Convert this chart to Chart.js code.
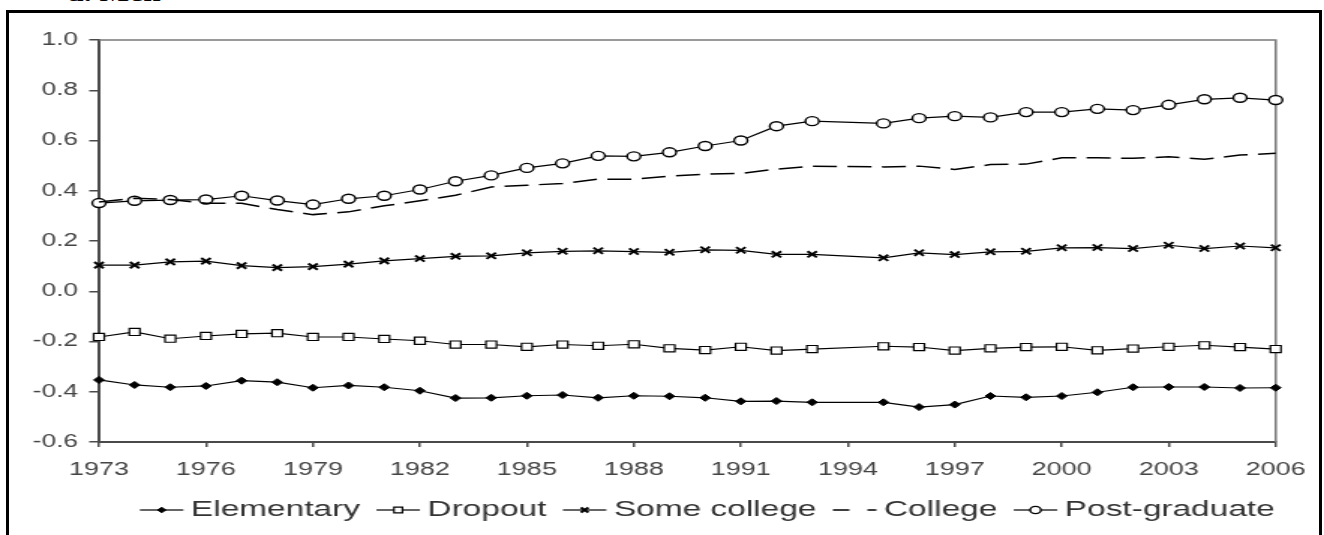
<!DOCTYPE html>
<html>
<head>
<meta charset="utf-8">
<script src="https://cdn.jsdelivr.net/npm/chart.js@4"></script>
<style>
  html, body { margin: 0; padding: 0; background: #fff; }
  #wrap { position: relative; width: 1324px; height: 535px; overflow: hidden; }
  #frame { position: absolute; left: 6px; top: 10px; width: 1316px; height: 600px;
           border: 3px solid #000; box-sizing: border-box; }
  #panel { position: absolute; left: 68px; top: -18.5px; line-height: 21px; white-space: nowrap;
           font: bold 21px "Liberation Serif", "Times New Roman", serif; color: #000;
           transform: scaleX(1.5); transform-origin: 0 0; }
  #chart { position: absolute; left: 0; top: 0; }
</style>
</head>
<body>
<div id="wrap">
  <div id="frame"></div>
  <div id="panel">a. Men</div>
  <!-- the figure is drawn on an 883px-wide canvas and displayed 1.5x wider -->
  <canvas id="chart" width="883" height="535" style="width:1324px;height:535px"></canvas>
</div>
<script>
// Survey years (no observation for 1994)
const years = [1973, 1974, 1975, 1976, 1977, 1978, 1979, 1980, 1981, 1982, 1983, 1984, 1985,
               1986, 1987, 1988, 1989, 1990, 1991, 1992, 1993, 1995, 1996, 1997, 1998, 1999,
               2000, 2001, 2002, 2003, 2004, 2005, 2006];

const elementary = [-0.353, -0.373, -0.382, -0.377, -0.356, -0.362, -0.384, -0.375, -0.382, -0.396,
                    -0.425, -0.424, -0.416, -0.413, -0.424, -0.416, -0.418, -0.424, -0.438, -0.437,
                    -0.442, -0.442, -0.461, -0.451, -0.417, -0.422, -0.417, -0.402, -0.382, -0.381,
                    -0.381, -0.385, -0.384];

const dropout = [-0.182, -0.162, -0.189, -0.178, -0.170, -0.167, -0.182, -0.182, -0.190, -0.197,
                 -0.212, -0.212, -0.221, -0.212, -0.217, -0.211, -0.227, -0.234, -0.221, -0.236,
                 -0.230, -0.219, -0.222, -0.236, -0.227, -0.222, -0.221, -0.235, -0.228, -0.221,
                 -0.215, -0.222, -0.230];

const someCollege = [0.104, 0.104, 0.117, 0.120, 0.102, 0.094, 0.098, 0.108, 0.121, 0.130,
                     0.139, 0.141, 0.153, 0.159, 0.161, 0.158, 0.155, 0.165, 0.163, 0.147,
                     0.147, 0.133, 0.153, 0.146, 0.157, 0.159, 0.173, 0.174, 0.170, 0.183,
                     0.170, 0.180, 0.173];

const college = [0.355, 0.370, 0.365, 0.350, 0.350, 0.325, 0.305, 0.316, 0.340, 0.360,
                 0.382, 0.415, 0.422, 0.429, 0.446, 0.446, 0.458, 0.466, 0.469, 0.486,
                 0.498, 0.495, 0.498, 0.485, 0.504, 0.506, 0.531, 0.531, 0.529, 0.535,
                 0.525, 0.542, 0.549];

const postGraduate = [0.351, 0.360, 0.363, 0.365, 0.380, 0.361, 0.345, 0.368, 0.380, 0.405,
                      0.438, 0.461, 0.491, 0.509, 0.539, 0.537, 0.553, 0.578, 0.600, 0.657,
                      0.677, 0.668, 0.689, 0.697, 0.692, 0.713, 0.713, 0.726, 0.721, 0.742,
                      0.764, 0.770, 0.761];

const seriesNames = ['Elementary', 'Dropout', 'Some college', 'College', 'Post-graduate'];

const xTickStart = 1973, xTickEnd = 2006, xTickStep = 3;
const yTickMin = -0.6, yTickMax = 1.0, yTickStep = 0.2;

const FONT = '"Liberation Sans", Arial, Helvetica, sans-serif';
const toPoints = vals => years.map((yr, i) => ({ x: yr, y: vals[i] }));

function series(label, vals, extra) {
  return Object.assign({
    label, data: toPoints(vals),
    borderColor: '#000', borderWidth: 1.2, tension: 0, clip: false,
    pointBorderColor: '#000', pointBorderWidth: 1.2, pointBackgroundColor: '#fff',
    pointHoverRadius: 0
  }, extra);
}

const datasets = [
  series(seriesNames[0], elementary,  { pointStyle: 'rectRot', pointRadius: 3.5, pointBackgroundColor: '#000', pointBorderWidth: 1 }),
  series(seriesNames[1], dropout,     { pointStyle: 'rect', pointRadius: 5 }),
  series(seriesNames[2], someCollege, { pointStyle: 'crossRot', pointRadius: 4.4, pointBorderWidth: 1.9 }),
  series(seriesNames[3], college,     { pointRadius: 0, borderWidth: 1.5, borderDash: [16, 7], keyDash: [11, 12] }),
  series(seriesNames[4], postGraduate,{ pointStyle: 'circle', pointRadius: 4.5, pointBorderWidth: 1.4 })
];

// Thin frame along the top and right of the plot area
const plotFrame = {
  id: 'plotFrame',
  beforeDatasetsDraw(chart) {
    const { ctx, chartArea: a } = chart;
    ctx.save();
    ctx.strokeStyle = '#7a7a7a';
    ctx.lineWidth = 1.6;
    ctx.beginPath();
    ctx.moveTo(a.left, a.top);
    ctx.lineTo(a.right, a.top);
    ctx.lineTo(a.right, a.bottom);
    ctx.stroke();
    ctx.restore();
  }
};

// Key under the axis: line sample with marker, then the series name
const seriesKey = {
  id: 'seriesKey',
  afterDraw(chart) {
    const ctx = chart.ctx;
    const y = 510, len = 29;
    let x = 93.3;
    ctx.save();
    ctx.font = '22.3px ' + FONT;
    ctx.textBaseline = 'middle';
    ctx.textAlign = 'left';
    chart.data.datasets.forEach(ds => {
      ctx.save();
      ctx.strokeStyle = ds.borderColor;
      ctx.lineWidth = ds.borderWidth;
      ctx.setLineDash(ds.keyDash || []);
      ctx.beginPath();
      ctx.moveTo(x, y);
      ctx.lineTo(x + len, y);
      ctx.stroke();
      ctx.restore();
      if (ds.pointRadius > 0 && Chart.helpers && Chart.helpers.drawPoint) {
        ctx.save();
        ctx.strokeStyle = ds.pointBorderColor;
        ctx.fillStyle = ds.pointBackgroundColor;
        ctx.lineWidth = ds.pointBorderWidth;
        Chart.helpers.drawPoint(ctx, {
          pointStyle: ds.pointStyle, radius: ds.pointRadius * 0.8, rotation: 0,
          borderWidth: ds.pointBorderWidth
        }, x + len / 2, y);
        ctx.restore();
      }
      x += len + 5;
      ctx.fillStyle = '#333';
      ctx.fillText(ds.label, x, y);
      x += ctx.measureText(ds.label).width + 11;
    });
    ctx.restore();
  }
};

new Chart(document.getElementById('chart'), {
  type: 'line',
  data: { datasets },
  plugins: [plotFrame, seriesKey],
  options: {
    responsive: false,
    animation: false,
    events: [],
    layout: { padding: { left: 0, right: 32, top: 40, bottom: 52 } },
    plugins: { legend: { display: false }, tooltip: { enabled: false }, title: { display: false } },
    scales: {
      x: {
        type: 'linear',
        min: xTickStart, max: xTickEnd,
        afterFit(scale) { scale.height = 41; },
        border: { display: true, color: '#4a4a4a', width: 2 },
        grid: { display: true, drawOnChartArea: false, drawTicks: true, tickLength: 5,
                color: '#4a4a4a', lineWidth: 1.5 },
        ticks: {
          stepSize: xTickStep, autoSkip: false, maxRotation: 0, padding: 12.2,
          color: '#444', font: { family: FONT, size: 18 },
          callback: v => String(v)
        }
      },
      y: {
        type: 'linear',
        min: yTickMin, max: yTickMax,
        afterFit(scale) { scale.width = 66; },
        border: { display: true, color: '#4a4a4a', width: 2 },
        grid: { display: true, drawOnChartArea: false, drawTicks: true, tickLength: 6.5,
                color: '#4a4a4a', lineWidth: 1.5 },
        ticks: {
          stepSize: yTickStep, padding: 7.5,
          color: '#444', font: { family: FONT, size: 17.5 },
          callback: v => (Math.abs(v) < 1e-9 ? '0.0' : v.toFixed(1))
        }
      }
    }
  }
});
</script>
</body>
</html>
